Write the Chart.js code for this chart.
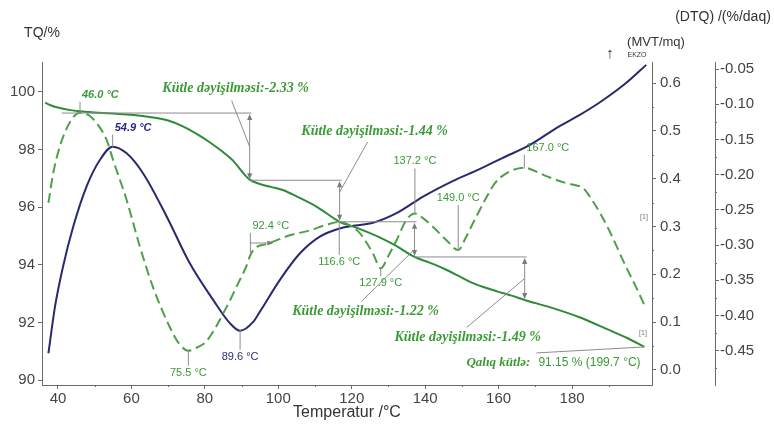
<!DOCTYPE html>
<html>
<head>
<meta charset="utf-8">
<script src="https://cdn.jsdelivr.net/npm/chart.js@4.4.1/dist/chart.umd.min.js"></script>
<style>
  html, body { margin: 0; padding: 0; background: #ffffff; }
  canvas { display: block; }
</style>
</head>
<body>
<canvas id="chart" width="774" height="424"></canvas>
<script>
// ---- axis ticks ----
const tempTicks = [40, 60, 80, 100, 120, 140, 160, 180];
const tgTicks = [90, 92, 94, 96, 98, 100];
const dtaTicks = [0.0, 0.1, 0.2, 0.3, 0.4, 0.5, 0.6];
const dtgTicks = [-0.05, -0.10, -0.15, -0.20, -0.25, -0.30, -0.35, -0.40, -0.45];

// ---- TQ (mass, %) ----
const tgTemps  = [36.5, 38, 40, 43, 46, 50, 55, 60, 65, 70, 74, 78, 81.4, 84.5, 87.6, 90, 92.2, 95, 98, 101.2, 105, 110.5, 116.7, 121.4, 127.6, 132, 137.1, 141, 145, 149, 153, 156.5, 160, 163.5, 167.1, 173.9, 182, 190.2, 195, 199.7];
const tgValues = [99.62, 99.53, 99.45, 99.37, 99.32, 99.28, 99.24, 99.20, 99.12, 99.00, 98.80, 98.52, 98.24, 97.95, 97.62, 97.25, 96.95, 96.80, 96.70, 96.59, 96.37, 96.01, 95.49, 95.28, 94.95, 94.66, 94.27, 94.08, 93.87, 93.62, 93.36, 93.20, 93.06, 92.93, 92.78, 92.53, 92.18, 91.73, 91.46, 91.15];

// ---- MVT (DTA signal, mW/mg) ----
const dtaTemps  = [37.4, 39.2, 41.4, 44.2, 47.8, 51.4, 54.9, 58.7, 63.2, 69.6, 75.9, 82.3, 86.8, 89.6, 93.1, 95.0, 100.4, 105.9, 111.3, 116.7, 121.0, 125.8, 132.2, 139.3, 147.5, 154.8, 161.0, 168.4, 176.6, 182.0, 188.0, 194.7, 200.2];
const dtaValues = [0.035, 0.133, 0.217, 0.301, 0.384, 0.439, 0.467, 0.453, 0.411, 0.321, 0.223, 0.146, 0.098, 0.082, 0.100, 0.122, 0.188, 0.244, 0.279, 0.296, 0.302, 0.308, 0.328, 0.362, 0.395, 0.420, 0.443, 0.470, 0.510, 0.533, 0.562, 0.600, 0.638];

// ---- DTQ (mass-loss rate, %/min) ----
const dtgTemps  = [37.4, 38.7, 40.5, 42.4, 44.2, 46.0, 48.5, 51.0, 53.2, 55.0, 58.7, 62.3, 65.9, 70.5, 73.0, 75.5, 78.0, 80.5, 86.0, 89.0, 91.3, 92.4, 94.0, 96.5, 98.6, 103.1, 108.6, 113.1, 116.6, 119.5, 122.2, 125.8, 127.9, 130.0, 132.2, 134.9, 137.2, 139.5, 142.1, 145.8, 149.0, 151.0, 153.0, 156.7, 159.0, 162.1, 167.0, 170.0, 173.0, 178.4, 181.0, 183.0, 185.7, 188.0, 190.2, 194.7, 197.0, 199.7];
const dtgValues = [-0.240, -0.198, -0.160, -0.134, -0.118, -0.112, -0.116, -0.130, -0.150, -0.179, -0.236, -0.302, -0.360, -0.417, -0.440, -0.450, -0.445, -0.436, -0.387, -0.355, -0.330, -0.314, -0.303, -0.299, -0.295, -0.286, -0.279, -0.271, -0.267, -0.272, -0.283, -0.312, -0.333, -0.315, -0.293, -0.264, -0.255, -0.262, -0.274, -0.293, -0.307, -0.290, -0.269, -0.232, -0.212, -0.198, -0.190, -0.195, -0.202, -0.212, -0.215, -0.219, -0.238, -0.258, -0.280, -0.331, -0.355, -0.385];

// ---- labelled peak temperatures ----
const dtgPeakTemps = [46.0, 75.5, 92.4, 116.6, 127.9, 137.2, 149.0, 167.0];
const dtaPeakTemps = [54.9, 89.6];

// ---- mass-loss steps ----
const stepStartTemps = [41.0, 92.2, 116.7, 137.1];
const stepTemps      = [92.2, 116.7, 137.1, 167.1];
const stepLevels     = [99.26, 96.93, 95.49, 94.27];
const stepChanges    = [-2.33, -1.44, -1.22, -1.49];

// ---- residue ----
const residueTemp = 199.7;
const residueMass = 91.15;

// ---- styling ----
const COL_TG = '#2f8a38';
const COL_DTG = '#4f9f4a';
const COL_DTA = '#29296f';
const COL_TXT_G = '#3a9a36';
const COL_TXT_B = '#2b2b82';
const COL_LEAD = '#8c8c8c';
const COL_AXIS = '#6a6a6a';
const SANS = '"Liberation Sans", Arial, sans-serif';
const SERIF = '"Liberation Serif", "Times New Roman", serif';

// how each peak label sits against its curve: side -1 above, +1 below
const dtgPeakStyle = [
  { side: -1, gap: 18, align: 'left', italic: true },
  { side: 1, gap: 22, align: 'center' },
  { side: -1, gap: 29, align: 'left', bracket: true },
  { side: 1, gap: 40, align: 'center' },
  { side: 1, gap: 15, align: 'center' },
  { side: -1, gap: 52, align: 'center' },
  { side: -1, gap: 52, align: 'center' },
  { side: -1, gap: 20, align: 'left' }
];
const dtaPeakStyle = [
  { side: -1, gap: 19, align: 'left', italic: true },
  { side: 1, gap: 26, align: 'center' }
];
// label centre offsets from each step arrow's midpoint, and leader geometry
const stepLabelOffset = [[-14, -58], [35, -70], [-49, 72], [-57, 59]];
const stepLeaderStart = [[-4, 12], [-7, 11], [-4, -10], [-1, -10]];
const stepLeaderEndDy = [0, -9, 10, 0];

function valueAt(ts, vs, t) {
  for (let i = 1; i < ts.length; i++) {
    if (t <= ts[i]) {
      const f = (t - ts[i - 1]) / (ts[i] - ts[i - 1]);
      return vs[i - 1] + f * (vs[i] - vs[i - 1]);
    }
  }
  return vs[vs.length - 1];
}
function pts(ts, vs) { return ts.map((t, i) => ({ x: t, y: vs[i] })); }

function arrowHead(ctx, x, y, dx, dy) {
  // tip at (x,y), pointing along (dx,dy)
  const len = 6, half = 2.6;
  const bx = x - dx * len, by = y - dy * len;
  ctx.beginPath();
  ctx.moveTo(x, y);
  ctx.lineTo(bx - dy * half, by + dx * half);
  ctx.lineTo(bx + dy * half, by - dx * half);
  ctx.closePath();
  ctx.fill();
}
function line(ctx, x1, y1, x2, y2) {
  ctx.beginPath(); ctx.moveTo(x1, y1); ctx.lineTo(x2, y2); ctx.stroke();
}

// short minor tick marks between the labelled ones
const minorTicks = {
  id: 'minorTicks',
  afterDraw(chart) {
    const ctx = chart.ctx;
    const sx = chart.scales.x, sDTA = chart.scales.yDTA, sDTG = chart.scales.yDTG;
    const area = chart.chartArea;
    ctx.save();
    ctx.strokeStyle = COL_AXIS; ctx.lineWidth = 1;
    for (let i = 0; i < tempTicks.length; i++) {
      const xp = Math.round(sx.getPixelForValue(tempTicks[i] + 10)) + 0.5;
      if (xp < area.right) line(ctx, xp, area.bottom, xp, area.bottom + 2);
    }
    const xp0 = Math.round(sx.getPixelForValue(tempTicks[0] - 10));
    for (let i = 0; i < dtaTicks.length; i++) {
      const yp = Math.round(sDTA.getPixelForValue(dtaTicks[i] + 0.05)) + 0.5;
      if (yp > area.top) line(ctx, sDTA.left, yp, sDTA.left + 2, yp);
    }
    for (let i = 0; i < dtgTicks.length; i++) {
      const yp = Math.round(sDTG.getPixelForValue(dtgTicks[i] - 0.025)) + 0.5;
      if (yp < area.bottom) line(ctx, sDTG.left, yp, sDTG.left + 2, yp);
    }
    ctx.restore();
  }
};

const annotations = {
  id: 'annotations',
  afterDatasetsDraw(chart) {
    const ctx = chart.ctx;
    const sx = chart.scales.x, sTG = chart.scales.yTG, sDTA = chart.scales.yDTA, sDTG = chart.scales.yDTG;
    const area = chart.chartArea;
    ctx.save();
    ctx.lineWidth = 1;

    // mass-loss steps
    stepTemps.forEach((t, i) => {
      const xs = sx.getPixelForValue(stepStartTemps[i]);
      const xe = sx.getPixelForValue(t);
      const yr = sTG.getPixelForValue(stepLevels[i]);
      const ye = sTG.getPixelForValue(stepLevels[i] + stepChanges[i]);
      const ym = (yr + ye) / 2;
      ctx.strokeStyle = COL_LEAD; ctx.fillStyle = '#7a7a7a';
      line(ctx, xs, yr, xe + 2, yr);
      line(ctx, xe, yr + 3, xe, ye - 3);
      arrowHead(ctx, xe, yr + 1, 0, -1);
      arrowHead(ctx, xe, ye - 1, 0, 1);
      const lx = xe + stepLabelOffset[i][0], ly = ym + stepLabelOffset[i][1];
      line(ctx, lx + stepLeaderStart[i][0], ly + stepLeaderStart[i][1], xe, ym + stepLeaderEndDy[i]);
      ctx.fillStyle = COL_TXT_G;
      ctx.font = 'italic bold 14px ' + SERIF;
      ctx.textAlign = 'center'; ctx.textBaseline = 'middle';
      ctx.fillText('Kütle dəyişilməsi:' + stepChanges[i].toFixed(2) + ' %', lx, ly);
    });

    // peak labels
    function peakLabel(t, yPix, st, color) {
      const x = sx.getPixelForValue(t);
      const ly = yPix + st.side * st.gap;
      ctx.strokeStyle = COL_LEAD; ctx.fillStyle = '#7a7a7a';
      if (st.bracket) {
        const yb = yPix - 12;
        line(ctx, x, ly + 7, x, yPix - 2);
        line(ctx, x, yb, x + 20, yb);
        arrowHead(ctx, x + 23, yb, 1, 0);
      } else {
        line(ctx, x, yPix - st.side * 1, x, ly - st.side * 7);
      }
      ctx.fillStyle = color;
      ctx.font = (st.italic ? 'italic bold ' : '') + '11px ' + SANS;
      ctx.textBaseline = 'middle';
      ctx.textAlign = st.align;
      ctx.fillText(t.toFixed(1) + ' °C', st.align === 'left' ? x + 2 : x, ly);
    }
    dtgPeakTemps.forEach((t, i) => peakLabel(t, sDTG.getPixelForValue(valueAt(dtgTemps, dtgValues, t)), dtgPeakStyle[i], COL_TXT_G));
    dtaPeakTemps.forEach((t, i) => peakLabel(t, sDTA.getPixelForValue(valueAt(dtaTemps, dtaValues, t)), dtaPeakStyle[i], COL_TXT_B));

    // residual mass
    const rx = sx.getPixelForValue(residueTemp), ry = sTG.getPixelForValue(residueMass);
    ctx.strokeStyle = COL_LEAD;
    line(ctx, rx, ry, rx - 108, ry + 6);
    ctx.fillStyle = COL_TXT_G; ctx.textBaseline = 'middle';
    ctx.textAlign = 'right';
    ctx.font = 'italic bold 13px ' + SERIF;
    ctx.fillText('Qalıq kütlə:', rx - 114, ry + 16);
    ctx.textAlign = 'left';
    ctx.font = '12px ' + SANS;
    ctx.fillText(residueMass.toFixed(2) + ' % (' + residueTemp.toFixed(1) + ' °C)', rx - 106, ry + 16);

    // small curve markers
    ctx.fillStyle = '#777'; ctx.font = '7px ' + SANS; ctx.textAlign = 'center';
    ctx.fillText('[1]', area.right - 8, sDTA.getPixelForValue(0.32));
    ctx.fillText('[1]', area.right - 9, sDTA.getPixelForValue(0.078));

    // axis headings
    ctx.fillStyle = '#333';
    ctx.textBaseline = 'middle';
    ctx.font = '14px ' + SANS;
    ctx.textAlign = 'center';
    ctx.fillText('TQ/%', area.left, area.top - 29);
    ctx.fillText('(DTQ) /(%/daq)', sDTG.left + 8, area.top - 45);
    ctx.font = '13px ' + SANS;
    ctx.fillText('(MVT/mq)', area.right + 4, area.top - 20);
    ctx.font = '15px ' + SANS;
    ctx.fillText('↑', area.right - 42, area.top - 8);
    ctx.font = '7px ' + SANS;
    ctx.fillText('EKZO', area.right - 15, area.top - 7);
    ctx.restore();
  }
};

const axisGrid = { display: true, drawOnChartArea: false, drawTicks: true, tickLength: 4, tickColor: COL_AXIS, color: COL_AXIS };
const axisBorder = { display: true, color: COL_AXIS, width: 1 };
const tickFont = { family: SANS, size: 15 };

new Chart(document.getElementById('chart'), {
  type: 'line',
  data: {
    datasets: [
      { label: 'DTQ', data: pts(dtgTemps, dtgValues), yAxisID: 'yDTG', borderColor: COL_DTG, borderWidth: 2, borderDash: [10, 5], pointRadius: 0, cubicInterpolationMode: 'monotone', fill: false },
      { label: 'TQ', data: pts(tgTemps, tgValues), yAxisID: 'yTG', borderColor: COL_TG, borderWidth: 2, pointRadius: 0, cubicInterpolationMode: 'monotone', fill: false },
      { label: 'MVT', data: pts(dtaTemps, dtaValues), yAxisID: 'yDTA', borderColor: COL_DTA, borderWidth: 2, pointRadius: 0, cubicInterpolationMode: 'monotone', fill: false }
    ]
  },
  options: {
    responsive: false,
    animation: false,
    devicePixelRatio: 1,
    layout: { padding: { top: 62, left: 0, right: 0, bottom: 0 } },
    plugins: { legend: { display: false }, tooltip: { enabled: false } },
    scales: {
      x: {
        type: 'linear', position: 'bottom', min: 35.65, max: 201.77,
        afterBuildTicks: s => { s.ticks = tempTicks.map(v => ({ value: v })); },
        afterFit: s => { s.height = 39; },
        grid: axisGrid, border: axisBorder,
        ticks: { color: '#444', font: tickFont, padding: 1, maxRotation: 0, callback: v => String(v) },
        title: { display: true, text: 'Temperatur /°C', color: '#333', font: { family: SANS, size: 16 }, padding: { top: 0, bottom: 2 } }
      },
      yTG: {
        type: 'linear', position: 'left', min: 89.83, max: 101.03,
        afterBuildTicks: s => { s.ticks = tgTicks.map(v => ({ value: v })); },
        afterFit: s => { s.width = 42; },
        grid: axisGrid, border: axisBorder,
        ticks: { color: '#444', font: tickFont, padding: 3, callback: v => String(v) }
      },
      yDTA: {
        type: 'linear', position: 'right', min: -0.0314, max: 0.644,
        afterBuildTicks: s => { s.ticks = dtaTicks.map(v => ({ value: v })); },
        afterFit: s => { s.width = 63; },
        grid: axisGrid, border: axisBorder,
        ticks: { color: '#444', font: tickFont, padding: 4, callback: v => v.toFixed(1) }
      },
      yDTG: {
        type: 'linear', position: 'right', min: -0.4986, max: -0.04,
        afterBuildTicks: s => { s.ticks = dtgTicks.map(v => ({ value: v })); },
        afterFit: s => { s.width = 59; },
        grid: axisGrid, border: axisBorder,
        ticks: { color: '#444', font: tickFont, padding: 1, callback: v => v.toFixed(2) }
      }
    }
  },
  plugins: [annotations, minorTicks]
});
</script>
</body>
</html>
